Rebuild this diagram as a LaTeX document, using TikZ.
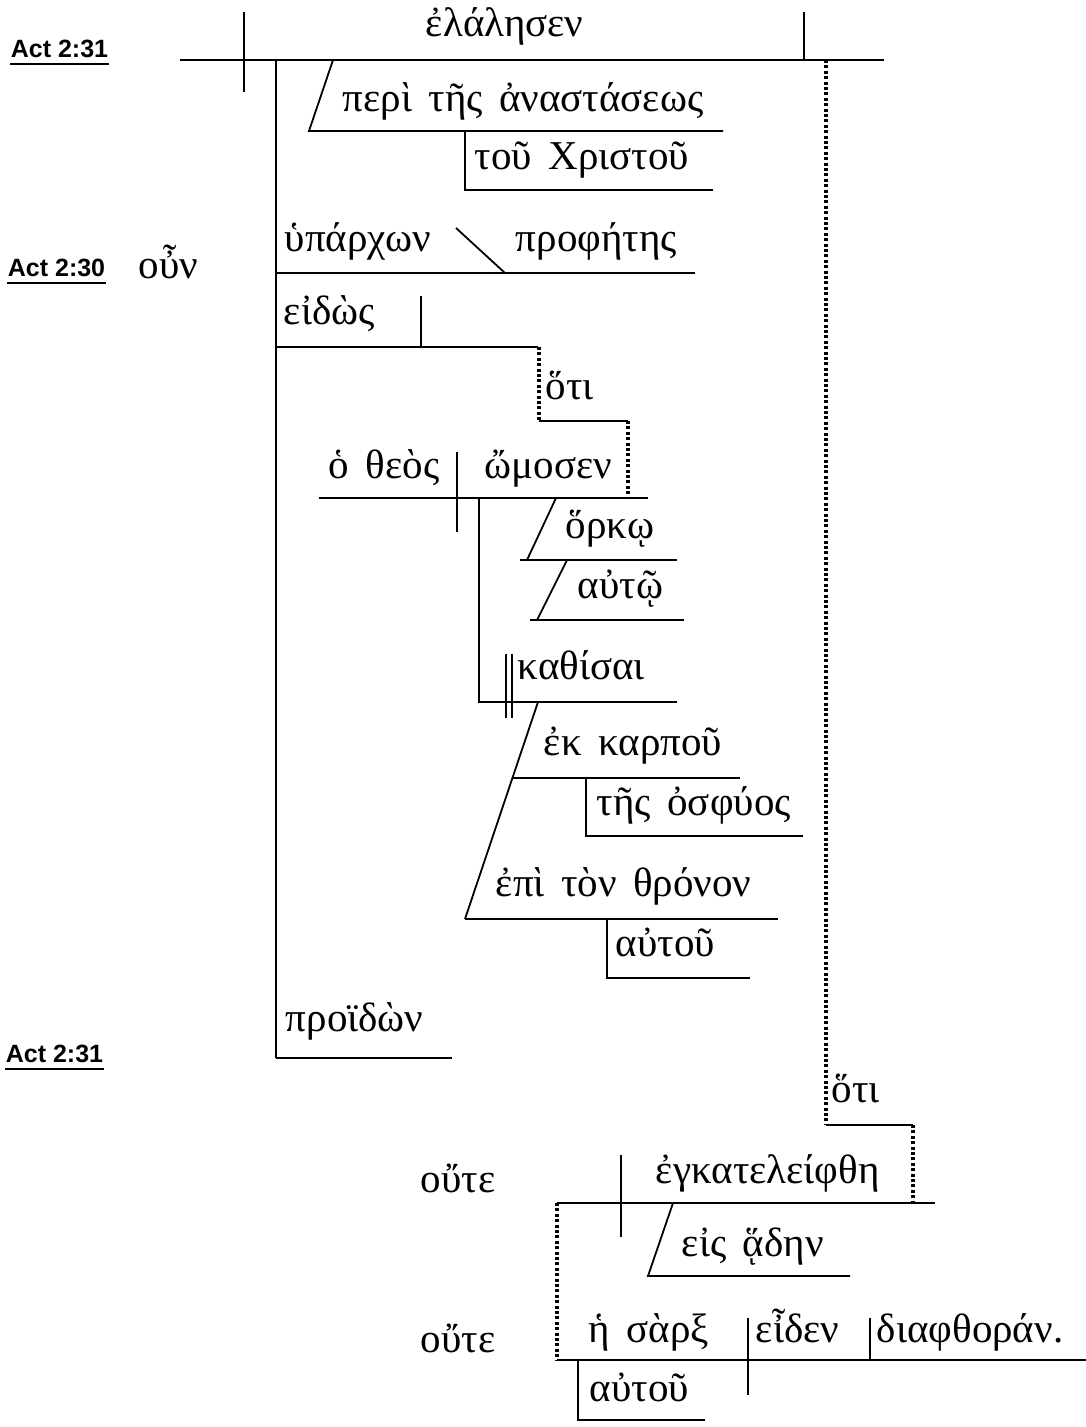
\documentclass[tikz,border=0pt]{standalone}
\usepackage{fontspec}
\setmainfont{Liberation Serif}
\newfontfamily\gkfont[WordSpace=1.6]{Liberation Serif}
\newfontfamily\labfont{Liberation Sans}
\begin{document}
\begin{tikzpicture}[x=1pt,y=-1pt,line width=1.8pt,
  gk/.style={anchor=base west,inner sep=0pt,font=\gkfont\fontsize{41}{43}\selectfont},
  lab/.style={anchor=base west,inner sep=0pt,font=\labfont\bfseries\fontsize{25}{28}\selectfont},
  dotl/.style={line width=3.2pt,dash pattern=on 3pt off 2.4pt},
  uline/.style={line width=2.6pt}]
\useasboundingbox (0,0) rectangle (1086,1427);

% verse labels
\node[lab] (act1) at (10,57) {Act 2:31};
\draw[uline] ([yshift=-7pt]act1.base west) -- ([yshift=-7pt]act1.base east);
\node[lab] (act2) at (7,276) {Act 2:30};
\draw[uline] ([yshift=-7pt]act2.base west) -- ([yshift=-7pt]act2.base east);
\node[lab] (act3) at (5,1062) {Act 2:31};
\draw[uline] ([yshift=-7pt]act3.base west) -- ([yshift=-7pt]act3.base east);
\node[gk] (oun) at (138,278) {οὖν};

% main clause
\draw (180,60) -- (884,60);
\draw (244,12) -- (244,92);
\draw (804,12) -- (804,60);
\node[gk] (v1) at (425,36) {ἐλάλησεν};

% peri
\draw (333,60) -- (309,131) -- (723,131);
\node[gk] (peri) at (342,111) {περὶ τῆς ἀναστάσεως};
\draw (465,131) -- (465,190) -- (713,190);
\node[gk] (xr) at (474,169) {τοῦ Χριστοῦ};

% participle stem
\draw (276,60) -- (276,1058);

% hyparchon
\draw (276,273) -- (695,273);
\node[gk] (hyp) at (284,251) {ὑπάρχων};
\draw (456,228) -- (505,273);
\node[gk] (proph) at (515,251) {προφήτης};

% eidos
\draw (276,347) -- (538,347);
\node[gk] (eid) at (283,324) {εἰδὼς};
\draw (421,296) -- (421,347);
\draw[dotl] (539,347) -- (539,421);
\draw (539,421) -- (628,421);
\draw[dotl] (628,421) -- (628,498);
\node[gk] (hoti1) at (545,399) {ὅτι};

% omosen clause
\draw (319,498) -- (648,498);
\draw (457,452) -- (457,532);
\node[gk] (theos) at (328,478) {ὁ θεὸς};
\node[gk] (omos) at (484,478) {ὤμοσεν};
\draw (556,498) -- (527,560);
\draw (520,560) -- (677,560);
\node[gk] (hork) at (565,538) {ὅρκῳ};
\draw (567,560) -- (537,620);
\draw (530,620) -- (684,620);
\node[gk] (aut1) at (577,598) {αὐτῷ};

% kathisai
\draw (479,498) -- (479,702) -- (677,702);
\draw (506,654) -- (506,718);
\draw (512,654) -- (512,718);
\node[gk] (kath) at (517,679) {καθίσαι};
\draw (538,702) -- (465,919);
\draw (513,778) -- (740,778);
\node[gk] (ek) at (543,755) {ἐκ καρποῦ};
\draw (586,778) -- (586,836) -- (803,836);
\node[gk] (osf) at (596,815) {τῆς ὀσφύος};
\draw (465,919) -- (778,919);
\node[gk] (epi) at (495,896) {ἐπὶ τὸν θρόνον};
\draw (607,919) -- (607,978) -- (750,978);
\node[gk] (aut2) at (615,956) {αὐτοῦ};

% proidon
\draw (276,1058) -- (452,1058);
\node[gk] (proid) at (285,1031) {προϊδὼν};

% hoti clause
\draw[dotl] (826,60) -- (826,1125);
\draw (826,1125) -- (913,1125);
\draw[dotl] (913,1125) -- (913,1203);
\node[gk] (hoti2) at (831,1102) {ὅτι};

\node[gk] (oute1) at (420,1192) {οὔτε};
\draw (557,1203) -- (935,1203);
\draw (621,1155) -- (621,1237);
\node[gk] (egk) at (655,1183) {ἐγκατελείφθη};
\draw (673,1203) -- (648,1276) -- (850,1276);
\node[gk] (eis) at (681,1256) {εἰς ᾅδην};

\draw[dotl] (557,1203) -- (557,1360);
\node[gk] (oute2) at (420,1352) {οὔτε};
\draw (557,1360) -- (1086,1360);
\draw (748,1318) -- (748,1395);
\draw (870,1318) -- (870,1360);
\node[gk] (sarx) at (588,1342) {ἡ σὰρξ};
\node[gk] (eiden) at (755,1342) {εἶδεν};
\node[gk] (diaf) at (876,1342) {διαφθοράν.};
\draw (578,1360) -- (578,1420) -- (705,1420);
\node[gk] (aut3) at (589,1401) {αὐτοῦ};
\end{tikzpicture}
\end{document}
